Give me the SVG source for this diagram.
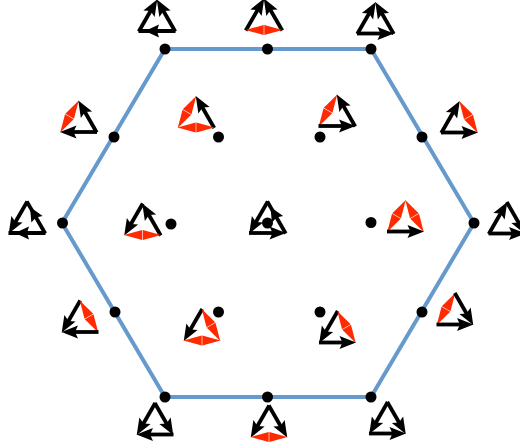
<svg xmlns="http://www.w3.org/2000/svg" width="520" height="444" viewBox="0 0 520 444">
<style>
.dot{fill:#000}
.hex{fill:none;stroke:#6699CC;stroke-width:4;stroke-linejoin:miter}
.sh{stroke:#000;stroke-width:3.8;fill:none}
.hd{fill:#000}
.rd{fill:#FF2A00}
</style>
<defs>
<g id="a"><line class="sh" x1="-0.5" y1="0" x2="26" y2="0"/><polygon class="hd" points="36.500,0 20,-6.500 23,0 20,6.500"/></g>
<g id="as"><line class="sh" x1="-0.5" y1="0" x2="36.500" y2="0"/><polygon class="hd" points="30,0 16,-6.500 18,0 16,6.500"/></g>
<g id="r"><polygon class="rd" points="-0.500,0 17.700,-5 17.700,5"/><polygon class="rd" points="36.500,0 18.300,-5 18.300,5"/></g>
<use id="lr" href="#a"/>
<use id="rl" href="#a" transform="translate(36,0) rotate(180)"/>
<use id="rls" href="#as" transform="translate(36,0) rotate(180)"/>
<use id="lT" href="#a" transform="rotate(-60)"/>
<use id="Tl" href="#a" transform="translate(18,-31) rotate(120)"/>
<use id="rT" href="#a" transform="translate(36,0) rotate(-120)"/>
<use id="rTs" href="#as" transform="translate(36,0) rotate(-120)"/>
<use id="Tr" href="#a" transform="translate(18,-31) rotate(60)"/>
<use id="Rb" href="#r"/>
<use id="Rl" href="#r" transform="rotate(-60)"/>
<use id="Rr" href="#r" transform="translate(36,0) rotate(-120)"/>
</defs>
<g id="connectors">
<polygon class="hex" points="165,49 371,49 474,223 371,397 165,397 62,223"/>
</g>
<g id="tri-a1" transform="translate(139,31)"><use href="#lT"/><use href="#rT"/><use href="#rls"/></g>
<g id="tri-a2" transform="translate(246,30)"><use href="#lT"/><use href="#rT"/><use href="#Rb"/></g>
<g id="tri-a3" transform="translate(357.5,33.5)"><use href="#lT"/><use href="#rT"/><use href="#lr"/></g>
<g id="tri-b1" transform="translate(60.5,132)"><use href="#Rl"/><use href="#rT"/><use href="#rl"/></g>
<g id="tri-b2" transform="translate(178,127.5)"><use href="#Rl"/><use href="#rT"/><use href="#Rb"/></g>
<g id="tri-b3" transform="translate(319,126)"><use href="#Rl"/><use href="#rT"/><use href="#lr"/></g>
<g id="tri-b4" transform="translate(441.5,132.5)"><use href="#lT"/><use href="#Rr"/><use href="#lr"/></g>
<g id="tri-c1" transform="translate(9,233)"><use href="#Tl"/><use href="#rTs"/><use href="#rls"/></g>
<g id="tri-c2" transform="translate(124.5,235)"><use href="#Tl"/><use href="#rT"/><use href="#Rb"/></g>
<g id="tri-c3" transform="translate(249.5,233)"><use href="#Tl"/><use href="#rTs"/><use href="#lr"/></g>
<g id="tri-c4" transform="translate(387.5,231.5)"><use href="#Rl"/><use href="#Rr"/><use href="#lr"/></g>
<g id="tri-c5" transform="translate(489,233.5)"><use href="#lT"/><use href="#Tr"/><use href="#lr"/></g>
<g id="tri-d1" transform="translate(62,332)"><use href="#Tl"/><use href="#Rr"/><use href="#rl"/></g>
<g id="tri-d2" transform="translate(184,340.5)"><use href="#Tl"/><use href="#Rr"/><use href="#Rb"/></g>
<g id="tri-d3" transform="translate(319.5,342.5)"><use href="#Tl"/><use href="#Rr"/><use href="#lr"/></g>
<g id="tri-d4" transform="translate(437,324.5)"><use href="#Rl"/><use href="#Tr"/><use href="#lr"/></g>
<g id="tri-e1" transform="translate(137,434.5)"><use href="#Tl"/><use href="#Tr"/><use href="#rl"/></g>
<g id="tri-e2" transform="translate(251,437)"><use href="#Tl"/><use href="#Tr"/><use href="#Rb"/></g>
<g id="tri-e3" transform="translate(369.5,433.5)"><use href="#Tl"/><use href="#Tr"/><use href="#lr"/></g>
<g id="dots">
<circle id="d01" class="dot" cx="165" cy="49" r="5.500"/>
<circle id="d02" class="dot" cx="267.500" cy="49" r="5.500"/>
<circle id="d03" class="dot" cx="371" cy="49" r="5.500"/>
<circle id="d04" class="dot" cx="114" cy="137" r="5.500"/>
<circle id="d05" class="dot" cx="218.500" cy="137" r="5.500"/>
<circle id="d06" class="dot" cx="320" cy="137" r="5.500"/>
<circle id="d07" class="dot" cx="422" cy="137" r="5.500"/>
<circle id="d08" class="dot" cx="62.500" cy="223" r="5.500"/>
<circle id="d09" class="dot" cx="171" cy="224" r="5.500"/>
<circle id="d10" class="dot" cx="267.500" cy="223" r="5.500"/>
<circle id="d11" class="dot" cx="371" cy="222.500" r="5.500"/>
<circle id="d12" class="dot" cx="474" cy="223" r="5.500"/>
<circle id="d13" class="dot" cx="115" cy="312" r="5.500"/>
<circle id="d14" class="dot" cx="218.500" cy="312" r="5.500"/>
<circle id="d15" class="dot" cx="320" cy="312" r="5.500"/>
<circle id="d16" class="dot" cx="422" cy="312" r="5.500"/>
<circle id="d17" class="dot" cx="165" cy="397" r="5.500"/>
<circle id="d18" class="dot" cx="267.500" cy="397" r="5.500"/>
<circle id="d19" class="dot" cx="371" cy="397" r="5.500"/>
</g>
</svg>
